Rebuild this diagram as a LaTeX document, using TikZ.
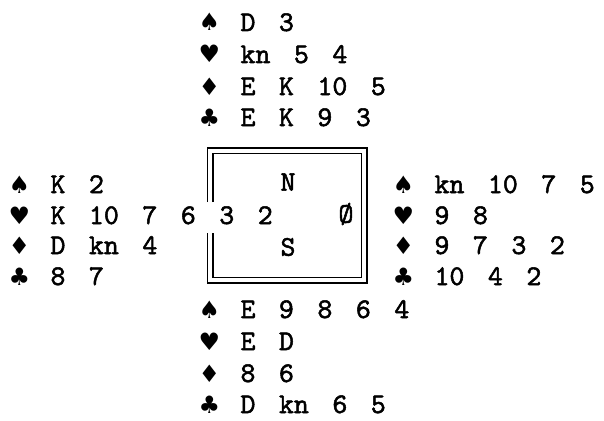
\documentclass[tikz,border=0pt]{standalone}
\usepackage{fontspec}
\newfontfamily\cardfont{lmmono10-regular.otf}[FakeBold=1.8]
\newfontfamily\suitfont{DejaVu Sans}
\newcommand\suitbox[1]{\makebox[15pt][c]{\suitfont\fontsize{24}{28}\selectfont #1}}
\newcommand\spd{\suitbox{♠}}
\newcommand\hrt{\suitbox{♥}}
\newcommand\dmd{\suitbox{♦}}
\newcommand\clb{\suitbox{♣}}
\newcommand\handfont{\cardfont\fontsize{28.5}{32}\selectfont\spaceskip=23.5pt\relax\xspaceskip=23.5pt\relax}
\tikzset{
  hand/.style={anchor=base west, inner sep=0pt, outer sep=0pt, text depth=0pt, font=\handfont},
  seat/.style={anchor=center, inner sep=0pt, outer sep=0pt,
    font=\cardfont\fontsize{28.5}{32}\selectfont},
  frame/.style={line width=1.3pt}
}
\begin{document}
\begin{tikzpicture}[x=1pt,y=1pt]
\useasboundingbox (0,0) rectangle (604,-420);
% North
\node[hand] (n1) at (202,-31)  {\spd{} D 3};
\node[hand] (n2) at (202,-63)  {\hrt{} kn 5 4};
\node[hand] (n3) at (202,-95)  {\dmd{} E K 10 5};
\node[hand] (n4) at (202,-126) {\clb{} E K 9 3};
% West
\node[hand] (w1) at (12,-193) {\spd{} K 2};
\node[hand] (w2) at (12,-224) {\hrt{} K 10 7 6 3 2};
\node[hand] (w3) at (12,-254) {\dmd{} D kn 4};
\node[hand] (w4) at (12,-285) {\clb{} 8 7};
% East
\node[hand] (e1) at (396,-193) {\spd{} kn 10 7 5};
\node[hand] (e2) at (396,-224) {\hrt{} 9 8};
\node[hand] (e3) at (396,-254) {\dmd{} 9 7 3 2};
\node[hand] (e4) at (396,-285) {\clb{} 10 4 2};
% South
\node[hand] (s1) at (202,-318) {\spd{} E 9 8 6 4};
\node[hand] (s2) at (202,-350) {\hrt{} E D};
\node[hand] (s3) at (202,-382) {\dmd{} 8 6};
\node[hand] (s4) at (202,-413) {\clb{} D kn 6 5};
% Table
\draw[frame] (207.5,-202) -- (207.5,-148) -- (367,-148) -- (367,-283) -- (207.5,-283) -- (207.5,-233);
\draw[frame] (213,-202) -- (213,-153.5) -- (361.5,-153.5) -- (361.5,-277.5) -- (213,-277.5) -- (213,-233);
\node[seat] (N) at (288,-182) {N};
\node[seat] (S) at (288,-247) {S};
\node[seat] (E) at (346,-214) {Ø};
\end{tikzpicture}
\end{document}
